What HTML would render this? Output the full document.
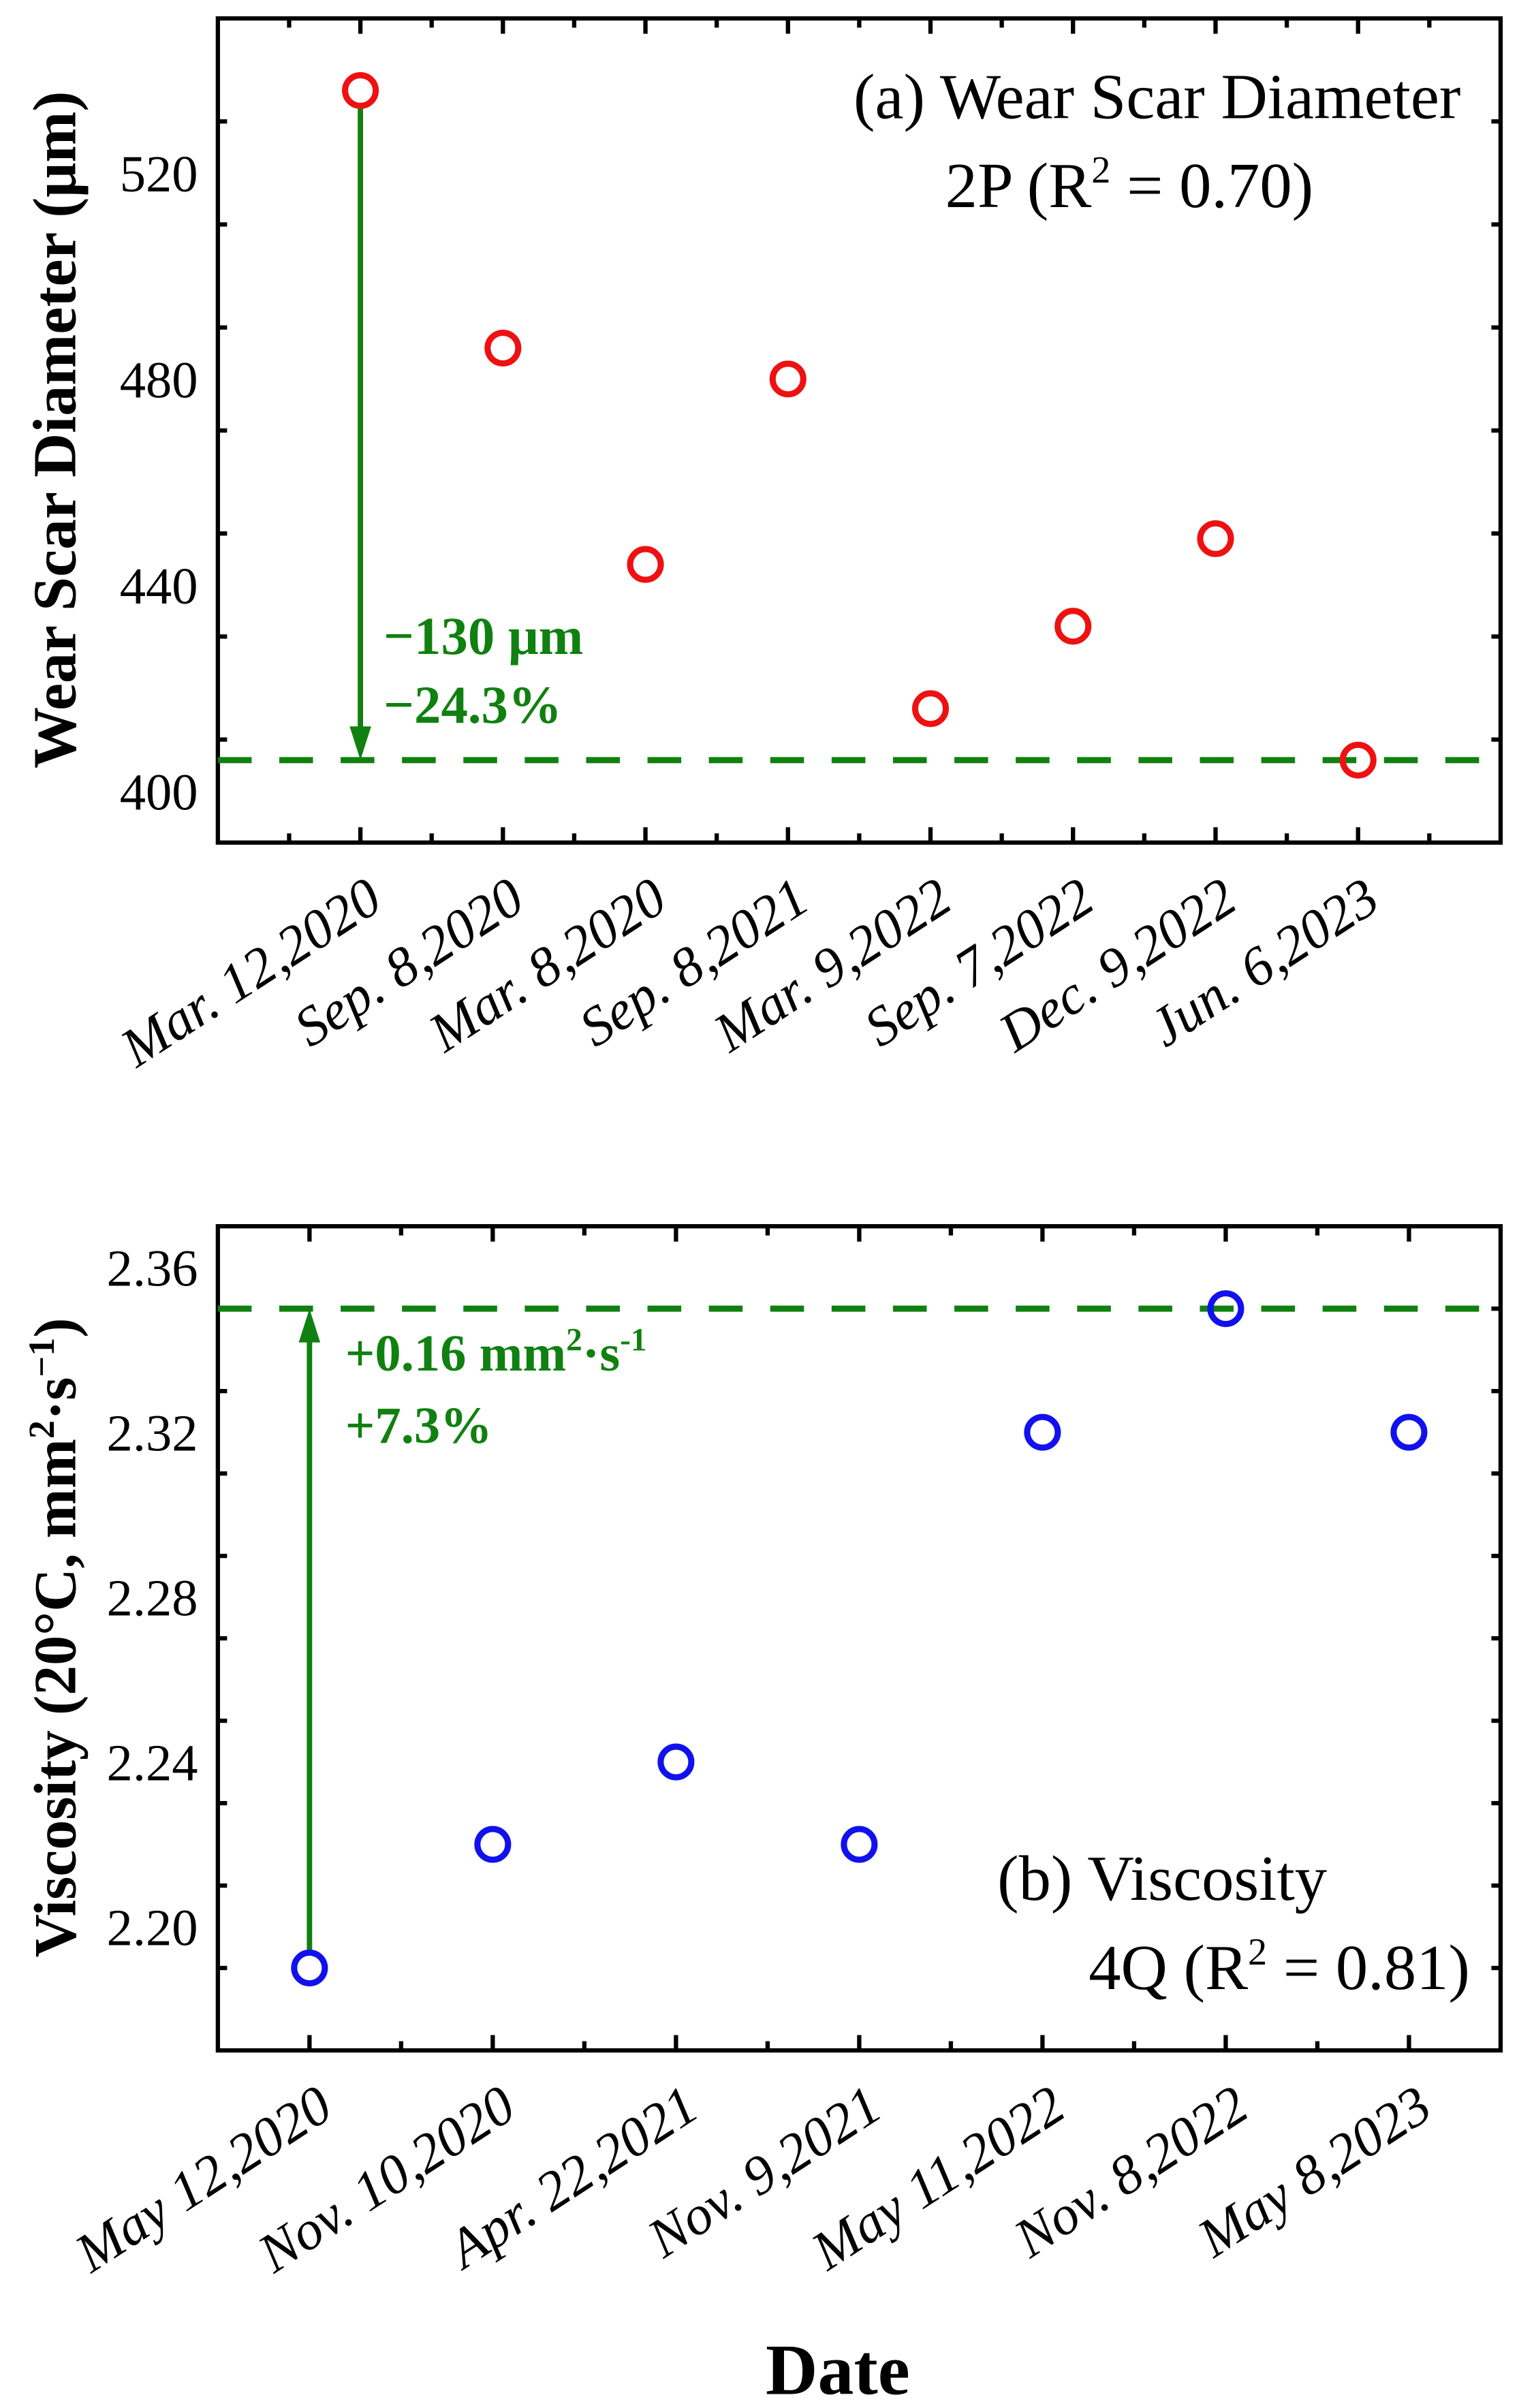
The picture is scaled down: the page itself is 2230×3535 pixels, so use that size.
<!DOCTYPE html>
<html><head><meta charset="utf-8"><style>
html,body{margin:0;padding:0;background:#fff}
svg{display:block}
text{font-family:"Liberation Serif",serif}
</style></head><body>
<svg id="chart" width="2230" height="3535" viewBox="0 0 990 1569" preserveAspectRatio="none" xmlns="http://www.w3.org/2000/svg"></svg>
<script>
const catsA = ["Mar. 12,2020","Sep. 8,2020","Mar. 8,2020","Sep. 8,2021","Mar. 9,2022","Sep. 7,2022","Dec. 9,2022","Jun. 6,2023"];
const valsA = [536,486,444,480,416,432,449,406];
const ticksA = [400,440,480,520];
const refA = 406;
const catsB = ["May 12,2020","Nov. 10,2020","Apr. 22,2021","Nov. 9,2021","May 11,2022","Nov. 8,2022","May 8,2023"];
const valsB = [2.19,2.22,2.24,2.22,2.32,2.35,2.32];
const ticksB = [2.20,2.24,2.28,2.32,2.36];
const refB = 2.35;

const NS="http://www.w3.org/2000/svg";
const svg=document.getElementById('chart');
function mk(tag,attrs,parent){const e=document.createElementNS(NS,tag);for(const k in attrs)e.setAttribute(k,attrs[k]);(parent||svg).appendChild(e);return e;}
const FF='Liberation Serif, serif';

function panel(o){
  const g=mk('g',{});
  
  
  const L=142,R=978,T=o.top,B=o.bottom;
  const x=v=>L+(v-o.xmin)/(o.xmax-o.xmin)*(R-L);
  const y=v=>B-(v-o.ymin)/(o.ymax-o.ymin)*(B-T);
  for(let i=Math.ceil(o.xmin*2)/2;i<=o.xmax+1e-9;i+=0.5){
    if(i<=o.xmin+1e-9||i>=o.xmax-1e-9)continue;
    const major=Math.abs(i-Math.round(i))<1e-9;const len=major?10:6;const xx=x(i);
    mk('line',{x1:xx,x2:xx,y1:B,y2:B-len,stroke:'#000','stroke-width':2.8},g);
    mk('line',{x1:xx,x2:xx,y1:T,y2:T+len,stroke:'#000','stroke-width':2.8},g);
  }
  for(let v=o.ymin+o.minor;v<o.ymax-1e-9;v+=o.minor){
    const major=o.ticks.some(t=>Math.abs(t-v)<1e-6);const len=major?10:6;const yy=y(v);
    mk('line',{x1:L,x2:L+len,y1:yy,y2:yy,stroke:'#000','stroke-width':2.8},g);
    mk('line',{x1:R,x2:R-len,y1:yy,y2:yy,stroke:'#000','stroke-width':2.8},g);
  }
  o.ticks.forEach(t=>{
    const tx=mk('text',{x:L-13,y:y(t)+12,'text-anchor':'end','font-size':34,'font-family':FF},g);
    
    
    tx.textContent=o.fmt(t);
  });
  o.cats.forEach((c,i)=>{
    const xx=x(i+1);
    const tx=mk('text',{transform:`translate(${xx+o.lx},${B+o.ly}) rotate(-33)`,'text-anchor':'end','font-size':36,'font-style':'italic','font-family':FF},g);
    
    
    tx.textContent=c;
  });
  const fr=mk('rect',{x:L,y:T,width:R-L,height:B-T,fill:'none',stroke:'#000','stroke-width':2.8},g);
  
  
  const rl=mk('line',{x1:L,x2:R,y1:y(o.ref),y2:y(o.ref),stroke:'#108010','stroke-width':4,'stroke-dasharray':'22 18'},g);
  
  
  const ax=x(o.arrowIdx+1);
  const y1=y(o.arrowFrom), y2=y(o.ref);
  const dir=y2>y1?1:-1;
  const ar=mk('g',{},g);
  
  
  mk('line',{x1:ax,x2:ax,y1:y1+dir*o.arrowGap,y2:y2-dir*14,stroke:'#108010','stroke-width':3.5},ar);
  mk('polygon',{points:`${ax-7},${y2-dir*22} ${ax+7},${y2-dir*22} ${ax},${y2}`,fill:'#108010'},ar);
  o.vals.forEach((v,i)=>{
    const c=mk('circle',{cx:x(i+1),cy:y(v),r:10,fill:'none',stroke:o.color,'stroke-width':4},g);
    
    
  });
  return g;
}

panel({name:'panel-a-wear-scar',top:12,bottom:549,xmin:0,xmax:9,ymin:390,ymax:550,minor:20,ticks:ticksA,fmt:t=>String(t),cats:catsA,vals:valsA,ref:refA,color:'#ee1111',arrowIdx:0,arrowFrom:valsA[0],arrowGap:10,lx:16,ly:42});
panel({name:'panel-b-viscosity',top:799,bottom:1336,xmin:0.5,xmax:7.5,ymin:2.17,ymax:2.37,minor:0.02,ticks:ticksB,fmt:t=>t.toFixed(2),cats:catsB,vals:valsB,ref:refB,color:'#1111ee',arrowIdx:0,arrowFrom:valsB[0],arrowGap:10,lx:17,ly:42});
</script>
<svg style="position:absolute;left:0;top:0" width="2230" height="3535" viewBox="0 0 990 1569" preserveAspectRatio="none" xmlns="http://www.w3.org/2000/svg">
<text transform="translate(49,280) rotate(-90)" text-anchor="middle" font-size="40" font-weight="bold" font-family="Liberation Serif, serif">Wear Scar Diameter (μm)</text>
<text x="952" y="77" text-anchor="end" font-size="42" font-family="Liberation Serif, serif">(a) Wear Scar Diameter</text>
<text x="856" y="135" text-anchor="end" font-size="42" font-family="Liberation Serif, serif">2P (R<tspan dy="-16" font-size="25">2</tspan><tspan dy="16"> = 0.70)</tspan></text>
<text x="250" y="426" font-size="35" font-weight="bold" fill="#108010" font-family="Liberation Serif, serif">−130 μm</text>
<text x="250" y="471" font-size="35" font-weight="bold" fill="#108010" font-family="Liberation Serif, serif">−24.3%</text>
<text transform="translate(49,1067) rotate(-90)" text-anchor="middle" font-size="39" font-weight="bold" font-family="Liberation Serif, serif">Viscosity (20°C, mm<tspan dy="-14" font-size="24">2</tspan><tspan dy="14">·s</tspan><tspan dy="-14" font-size="24">−1</tspan><tspan dy="14">)</tspan></text>
<text x="650" y="1238" font-size="42" font-family="Liberation Serif, serif">(b) Viscosity</text>
<text x="958" y="1296" text-anchor="end" font-size="42" font-family="Liberation Serif, serif">4Q (R<tspan dy="-16" font-size="25">2</tspan><tspan dy="16"> = 0.81)</tspan></text>
<text x="225" y="893" font-size="34" font-weight="bold" fill="#108010" font-family="Liberation Serif, serif">+0.16 mm<tspan dy="-13" font-size="21">2</tspan><tspan dy="13">·s</tspan><tspan dy="-13" font-size="21">-1</tspan></text>
<text x="225" y="940" font-size="34" font-weight="bold" fill="#108010" font-family="Liberation Serif, serif">+7.3%</text>
<text x="546" y="1560" text-anchor="middle" font-size="47" font-weight="bold" font-family="Liberation Serif, serif">Date</text>
</svg>
</body></html>
